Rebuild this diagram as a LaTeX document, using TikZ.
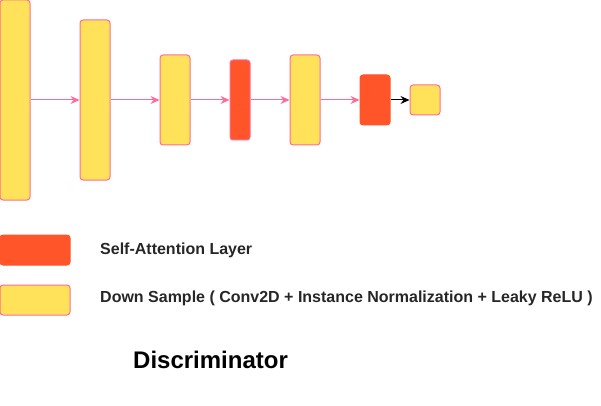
\documentclass[tikz,border=0pt]{standalone}
\usepackage{fontspec}
\setmainfont{Liberation Sans}
\usetikzlibrary{arrows.meta}

\definecolor{blockyellow}{HTML}{FFE15A}
\definecolor{blockred}{HTML}{FF5529}
\definecolor{edgepink}{HTML}{FF6B96}

\begin{document}
\begin{tikzpicture}[x=1pt, y=-1pt, >={Stealth[length=9pt,width=8pt,inset=3pt]}]
        % Define block styles
        \tikzstyle{down}=[rectangle,rounded corners=3pt,draw=edgepink,fill=blockyellow,line width=1pt,minimum width=30pt,inner sep=0pt]
        \tikzstyle{attn}=[rectangle,rounded corners=3pt,fill=blockred,line width=1pt,minimum width=20pt,inner sep=0pt]
        \tikzstyle{link}=[->,draw=edgepink,line width=1pt]
        \tikzstyle{label}=[anchor=west,inner sep=0pt,font=\bfseries\fontsize{16}{18}\selectfont,text=black!85]

        \useasboundingbox (0,0) rectangle (601,406);

        % Down sample blocks
        \foreach \m/\x/\h in {1/15/200,2/95/160,3/175/90,4/305/90,5/425/30}
            \node [down, minimum height=\h pt] (down-\m) at (\x,100) {};

        % Self-attention blocks
        \node [attn, draw=edgepink, minimum height=80pt] (attn-1) at (240,100) {};
        \node [attn, draw=blockred, minimum width=30pt, minimum height=50pt] (attn-2) at (375,100) {};

        % Connect the blocks
        \draw [link] (down-1) -- (down-2);
        \draw [link] (down-2) -- (down-3);
        \draw [link] (down-3) -- (attn-1);
        \draw [link] (attn-1) -- (down-4);
        \draw [link] (down-4) -- (attn-2);
        \draw [->,line width=1pt] (attn-2) -- (down-5);

        % Legend
        \node [attn, draw=blockred, minimum width=70pt, minimum height=30pt] (key-attn) at (35,250) {};
        \node [down, minimum width=70pt, minimum height=30pt] (key-down) at (35,300) {};
        \node [label] (text-attn) at (100,250) {Self-Attention Layer};
        \node [label] (text-down) at (100,298) {Down Sample ( Conv2D + Instance Normalization + Leaky ReLU )};

        % Title
        \node [anchor=west,inner sep=0pt,font=\bfseries\fontsize{24}{28}\selectfont] (title) at (133,360) {Discriminator};
    \end{tikzpicture}
\end{document}
